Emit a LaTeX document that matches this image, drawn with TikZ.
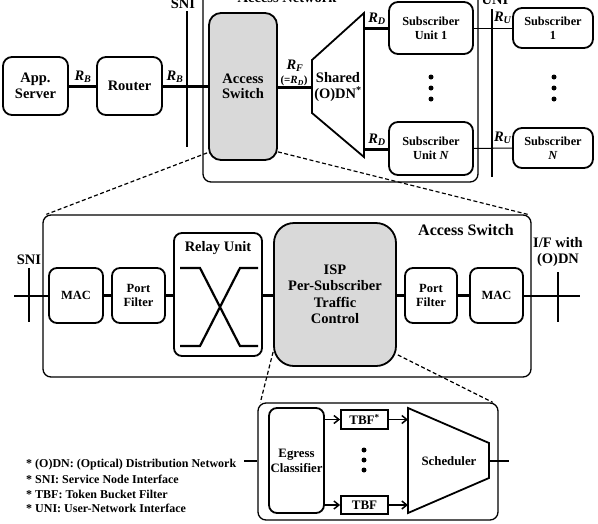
\documentclass[tikz,border=0pt]{standalone}
\usepackage{fontspec}
\setmainfont{Liberation Serif}
\usetikzlibrary{calc,arrows.meta}
\newcommand{\rr}[1]{\textit{R}\textsubscript{\textit{#1}}}
\newcommand{\fs}[1]{\fontsize{#1}{#1}\selectfont\bfseries}
\definecolor{asgray}{RGB}{217,217,217}
\begin{document}
\begin{tikzpicture}[x=1pt,y=-1pt,
  box/.style={draw,line width=1.8pt,rounded corners=9pt,align=center,inner sep=0pt},
  gbox/.style={box,fill=asgray},
  frame/.style={draw,line width=1.3pt,rounded corners=8pt,inner sep=0pt},
  sqbox/.style={draw,line width=1.8pt,align=center,inner sep=0pt},
  link/.style={line width=3pt},
  mlink/.style={line width=2.2pt},
  thinlink/.style={line width=1pt},
  iface/.style={line width=1.4pt},
  zoomln/.style={line width=1.2pt,dash pattern=on 4pt off 2.5pt},
  arr/.style={line width=1.5pt,-{Straight Barb[length=5pt,width=8pt,line width=1.5pt]}},
  lbl/.style={inner sep=0pt,align=center},
  legend/.style={inner sep=0pt,anchor=west,font=\fs{12}},
  dot/.style={circle,fill,inner sep=0pt,minimum size=5pt}
]
\useasboundingbox (0,0) rectangle (598,523);

% ---------- top row ----------
\node[frame,minimum width=275,minimum height=192] (an) at (340.5,86) {};
\node[lbl,font=\fs{14.5}] (anl) at (287,-2) {Access Network};
\node[lbl,font=\fs{14.5}] (snil) at (183,3.5) {SNI};
\node[lbl,font=\fs{14.5}] (unil) at (495,0) {UNI};
\coordinate (snit) at (187,11);
\coordinate (snib) at (187,147);
\coordinate (unit) at (492,9);
\coordinate (unib) at (492,177);

\node[box,minimum width=65,minimum height=58,font=\fs{14.5}] (app) at (35.5,86) {App.\\[1pt]Server};
\node[box,minimum width=65,minimum height=58,font=\fs{14.5}] (router) at (129.5,86) {Router};
\node[gbox,rounded corners=12pt,minimum width=68,minimum height=147,font=\fs{14.5}] (as) at (243,86.5) {Access\\[1pt]Switch};

\coordinate (odnin) at (312,87);
\coordinate (odnt) at (364,28);
\coordinate (odnb) at (364,149);
\draw[line width=1.8pt,line join=miter] (312,60) -- (364,13) -- (364,157) -- (312,113) -- cycle;
\node[lbl,font=\fs{14.5}] (odnl) at (338,87) {Shared\\[1pt](O)DN\textsuperscript{*}};

\node[box,minimum width=84,minimum height=52,font=\fs{12.3}] (su1) at (431,28) {Subscriber\\[2pt]Unit 1};
\node[box,minimum width=84,minimum height=53,font=\fs{12.3}] (suN) at (431,148.5) {Subscriber\\[2pt]Unit \textit{N}};
\node[box,minimum width=80,minimum height=40,font=\fs{12.3}] (s1) at (553,28) {Subscriber\\[2pt]1};
\node[box,minimum width=80,minimum height=40,font=\fs{12.3}] (sN) at (553,148) {Subscriber\\[2pt]\textit{N}};

\node[dot] (d1) at (431,77) {};
\node[dot] (d2) at (431,88) {};
\node[dot] (d3) at (431,99) {};
\node[dot] (d4) at (554,77) {};
\node[dot] (d5) at (554,88) {};
\node[dot] (d6) at (554,99) {};

\draw[link] (app) -- (router);
\draw[link] (router.east |- as) -- (as);
\draw[iface] (snit) -- (snib);
\draw[link] (as.east |- odnin) -- (odnin);
\draw[link] (odnt) -- (su1.west |- odnt);
\draw[link] (odnb) -- (suN.west |- odnb);
\draw[thinlink] (su1) -- (s1);
\draw[thinlink] (suN) -- (sN);
\draw[iface] (unit) -- (unib);

\node[lbl,font=\fs{14.5}] (rb1) at (83,77) {\rr{B}};
\node[lbl,font=\fs{14.5}] (rb2) at (175,77) {\rr{B}};
\node[lbl,font=\fs{14.5}] (rf) at (295,66) {\rr{F}};
\node[lbl,font=\fs{11}] (rfd) at (294,81) {(=\rr{D})};
\node[lbl,font=\fs{14.5}] (rd1) at (377,19) {\rr{D}};
\node[lbl,font=\fs{14.5}] (rd2) at (377,140) {\rr{D}};
\node[lbl,font=\fs{14.5}] (ru1) at (503,18) {\rr{U}};
\node[lbl,font=\fs{14.5}] (ru2) at (503,138) {\rr{U}};

% ---------- middle: access switch detail ----------
\node[frame,minimum width=488,minimum height=162] (asbig) at (287,296) {};
\node[lbl,font=\fs{16}] (asbigl) at (466,230) {Access Switch};
\draw[zoomln] ($(as.south west)+(-1,-8)$) -- ($(asbig.north west)+(4,0)$);
\draw[zoomln] ($(as.south east)+(0,-9)$) -- ($(asbig.north east)+(-4,0)$);

\node[lbl,font=\fs{14.5}] (snim) at (29,260) {SNI};
\coordinate (inl) at (14,296);
\coordinate (snimt) at (29,268);
\coordinate (snimb) at (29,322);
\node[box,rounded corners=8pt,minimum width=54,minimum height=55,font=\fs{12.5}] (mac1) at (76,295.5) {MAC};
\node[box,rounded corners=8pt,minimum width=53,minimum height=55,font=\fs{12.5}] (pf1) at (138.5,295.5) {Port\\[2pt]Filter};
\node[box,rounded corners=8pt,minimum width=88,minimum height=123] (relay) at (218,294.5) {};
\node[lbl,font=\fs{14.5}] (relayl) at (218,248) {Relay Unit};
\node[gbox,rounded corners=20pt,minimum width=122,minimum height=143,font=\fs{14.5}] (isp) at (335,294.5) {ISP\\[2pt]Per-Subscriber\\[2pt]Traffic\\[2pt]Control};
\node[box,rounded corners=8pt,minimum width=52,minimum height=55,font=\fs{12.5}] (pf2) at (431,295.5) {Port\\[2pt]Filter};
\node[box,rounded corners=8pt,minimum width=53,minimum height=55,font=\fs{12.5}] (mac2) at (496.5,295.5) {MAC};
\node[lbl,font=\fs{14.5}] (ifl) at (558,252) {I/F with\\[2pt](O)DN};
\coordinate (outl) at (580,296);
\coordinate (ifmt) at (558,272);
\coordinate (ifmb) at (558,322);

\draw[mlink] (inl) -- (mac1.west |- inl);
\draw[iface] (snimt) -- (snimb);
\draw[mlink] (mac1) -- (pf1);
\draw[mlink] (pf1) -- (pf1 -| relay.west);
\draw[mlink] (relay.east |- pf1) -- (isp.west |- pf1);
\draw[mlink] (isp.east |- pf2) -- (pf2);
\draw[mlink] (pf2) -- (mac2);
\draw[mlink] (mac2.east |- outl) -- (outl);
\draw[iface] (ifmt) -- (ifmb);

\draw[line width=2.2pt] (180,268) -- (200,268) -- (240,346) -- (258,346);
\draw[line width=2.2pt] (180,346) -- (200,346) -- (240,268) -- (258,268);

% ---------- bottom: traffic control detail ----------
\node[frame,minimum width=240,minimum height=117] (bot) at (378,461.5) {};
\draw[zoomln] ($(isp.south west)+(0,-15)$) -- ($(bot.north west)+(3,0)$);
\draw[zoomln] ($(isp.south east)+(1,-12)$) -- ($(bot.north east)+(-6,0)$);

\node[box,rounded corners=8pt,minimum width=55,minimum height=105,font=\fs{12.8}] (eg) at (296.5,460.5) {Egress\\[2pt]Classifier};
\node[sqbox,minimum width=47,minimum height=19,font=\fs{13}] (tbf1) at (364.5,419.5) {TBF\textsuperscript{*}};
\node[sqbox,minimum width=47,minimum height=18,font=\fs{13}] (tbf2) at (364.5,505) {TBF};
\draw[line width=1.8pt,line join=miter] (408,408) -- (489,443) -- (489,478) -- (408,513) -- cycle;
\node[lbl,font=\fs{12.8}] (schl) at (449,461) {Scheduler};
\coordinate (schw1) at (408,419.5);
\coordinate (schw2) at (408,505);
\coordinate (sche) at (489,461);
\coordinate (schout) at (509,461);
\coordinate (botin) at (244,461);

\node[dot] (d7) at (364,450) {};
\node[dot] (d8) at (364,460) {};
\node[dot] (d9) at (364,470) {};

\draw[arr] (eg.east |- tbf1) -- (tbf1);
\draw[arr] (eg.east |- tbf2) -- (tbf2);
\draw[arr] (tbf1) -- (schw1);
\draw[arr] (tbf2) -- (schw2);
\draw[line width=1.5pt] (botin) -- (bot.west |- botin);
\draw[line width=1.5pt] (sche) -- (schout);

% ---------- legend ----------
\node[legend] (lg1) at (26,465) {* (O)DN: (Optical) Distribution Network};
\node[legend] (lg2) at (26,479.5) {* SNI: Service Node Interface};
\node[legend] (lg3) at (26,494) {* TBF: Token Bucket Filter};
\node[legend] (lg4) at (26,508.5) {* UNI: User-Network Interface};
\end{tikzpicture}
\end{document}
